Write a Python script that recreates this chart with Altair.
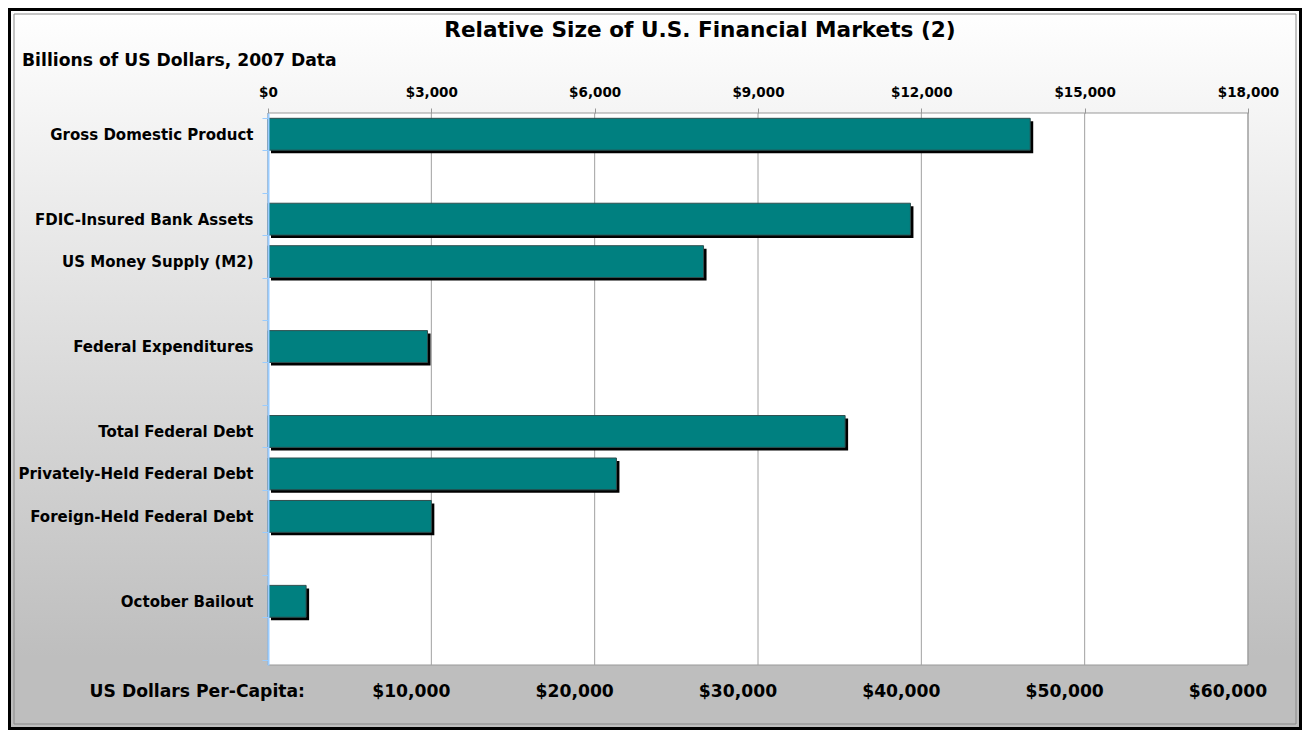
import altair as alt
import pandas as pd

# ---- data ----
categories = [
    "Gross Domestic Product", "blank1",
    "FDIC-Insured Bank Assets", "US Money Supply (M2)", "blank2",
    "Federal Expenditures", "blank3",
    "Total Federal Debt", "Privately-Held Federal Debt", "Foreign-Held Federal Debt", "blank4",
    "October Bailout", "blank5",
]
bar_names = [
    "Gross Domestic Product", "FDIC-Insured Bank Assets", "US Money Supply (M2)",
    "Federal Expenditures", "Total Federal Debt", "Privately-Held Federal Debt",
    "Foreign-Held Federal Debt", "October Bailout",
]
bar_values = [14000, 11800, 8000, 2930, 10600, 6400, 3000, 700]
top_ticks = [0, 3000, 6000, 9000, 12000, 15000, 18000]
per_capita = [10000, 20000, 30000, 40000, 50000, 60000]

title_text = "Relative Size of U.S. Financial Markets (2)"
subtitle_text = "Billions of US Dollars, 2007 Data"
pc_title_text = "US Dollars Per-Capita:"

# ---- layout ----
W, H = 980, 552
PAD = {"left": 260, "top": 105, "right": 54, "bottom": 65}
FONT = "DejaVu Sans"

bars_df = pd.DataFrame({"cat": bar_names, "value": bar_values})
ticks_df = pd.DataFrame({"t": top_ticks})
pc_df = pd.DataFrame({"pc": per_capita})
one = alt.Data(values=[{}])

x_scale = alt.Scale(domain=[0, 18000], nice=False, zero=True)
y_scale = alt.Scale(domain=categories, paddingInner=0.25, paddingOuter=0.125)

x_axis = alt.Axis(
    orient="top", values=top_ticks, format="$,.0f", grid=False, domain=False,
    ticks=True, tickColor="#999999", tickSize=5,
    labelFont=FONT, labelFontSize=13.5, labelFontWeight="bold", labelColor="black",
    labelPadding=9, labelFlush=False, labelOverlap=False, title=None, zindex=1,
)
y_axis = alt.Axis(
    domainColor="#99CCFF", domainWidth=2, tickColor="#99CCFF", tickSize=6,
    tickBand="extent", labelFont=FONT, labelFontSize=15, labelFontWeight="bold",
    labelColor="black", labelPadding=9, labelLimit=0, title=None, zindex=1,
    labelExpr="indexof(datum.label, 'blank') == 0 ? '' : datum.label",
)

gradient = {
    "gradient": "linear", "x1": 0, "y1": 0, "x2": 0, "y2": 1,
    "stops": [
        {"offset": 0, "color": "#ffffff"},
        {"offset": 0.9, "color": "#bebebe"},
        {"offset": 1, "color": "#bebebe"},
    ],
}

bg = alt.Chart(one).mark_rect(fill=gradient, stroke="black", strokeWidth=3).encode(
    x=alt.value(-258.5), x2=alt.value(1032.5), y=alt.value(-103.5), y2=alt.value(615.5)
)
inner_frame = alt.Chart(one).mark_rect(fill="white", fillOpacity=0, stroke="#8a8a8a", strokeWidth=1).encode(
    x=alt.value(-254), x2=alt.value(1028), y=alt.value(-99), y2=alt.value(611)
)
plot_bg = alt.Chart(one).mark_rect(fill="white", stroke="#999999", strokeWidth=1).encode(
    x=alt.value(0), x2=alt.value(W), y=alt.value(0), y2=alt.value(H)
)
grid = alt.Chart(ticks_df).mark_rule(color="#a0a0a0", strokeWidth=1).encode(
    x=alt.X("t:Q", scale=x_scale, axis=x_axis), y=alt.value(0), y2=alt.value(H)
)
shadow = alt.Chart(bars_df).mark_bar(
    color="black", xOffset=3, x2Offset=3, yOffset=3, y2Offset=3
).encode(
    x=alt.X("value:Q", scale=x_scale, axis=x_axis),
    y=alt.Y("cat:N", scale=y_scale, sort=categories, axis=y_axis),
)
bars = alt.Chart(bars_df).mark_bar(color="#008080", stroke="#2f4f4f", strokeWidth=1).encode(
    x=alt.X("value:Q", scale=x_scale, axis=x_axis),
    y=alt.Y("cat:N", scale=y_scale, sort=categories, axis=y_axis),
)
title = alt.Chart(one).mark_text(
    text=title_text, font=FONT, fontSize=21.6, fontWeight="bold", color="black",
    align="center", baseline="middle",
).encode(x=alt.value(432), y=alt.value(-82))
subtitle = alt.Chart(one).mark_text(
    text=subtitle_text, font=FONT, fontSize=17.2, fontWeight="bold", color="black",
    align="left", baseline="middle",
).encode(x=alt.value(-246), y=alt.value(-52))
pc_title = alt.Chart(one).mark_text(
    text=pc_title_text, font=FONT, fontSize=17.2, fontWeight="bold", color="black",
    align="right", baseline="middle",
).encode(x=alt.value(37), y=alt.value(579))
pc_labels = alt.Chart(pc_df).transform_calculate(b="datum.pc * 0.3").mark_text(
    font=FONT, fontSize=17.2, fontWeight="bold", color="black",
    align="center", baseline="middle", dx=-20,
).encode(
    x=alt.X("b:Q", scale=x_scale, axis=x_axis),
    y=alt.value(579),
    text=alt.Text("pc:Q", format="$,.0f"),
)

chart = alt.layer(
    bg, inner_frame, plot_bg, grid, shadow, bars, title, subtitle, pc_title, pc_labels
).properties(
    width=W, height=H, padding=PAD, background="white",
    autosize=alt.AutoSizeParams(type="none"),
).configure_view(stroke=None)

chart.save("out.html", embed_options={"renderer": "svg", "actions": False})
